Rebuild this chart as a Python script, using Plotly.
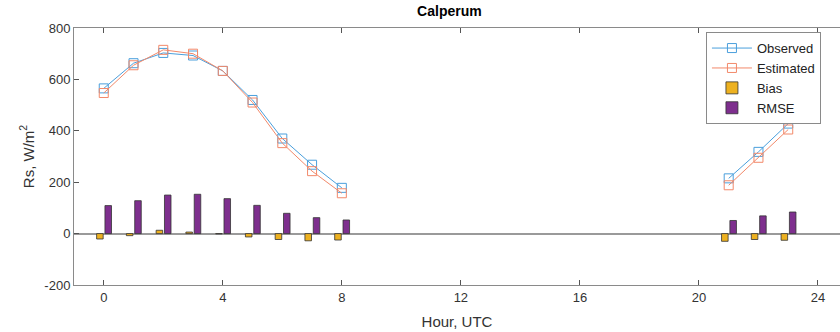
import plotly.graph_objects as go

hours = [0, 1, 2, 3, 4, 5, 6, 7, 8, 21, 22, 23]
observed = [565, 663, 703, 693, 633, 520, 370, 268, 178, 215, 318, 428]
estimated = [547, 655, 715, 700, 633, 510, 352, 243, 157, 188, 295, 405]
bias = [-21, -8, 13, 6, -1, -13, -23, -28, -25, -30, -23, -26]
rmse = [109, 128, 150, 153, 136, 110, 79, 62, 53, 51, 69, 84]
xticks = [0, 4, 8, 12, 16, 20, 24]
yticks = [-200, 0, 200, 400, 600, 800]
yticklabels = ["-200", "0", "200", "400", "600", "800"]

blue = "#4a9fdc"
orange = "#f2896a"
font = "Liberation Sans, Arial, sans-serif"

fig = go.Figure()

def seg(xs, ys):
    ox, oy = [], []
    for i, (a, b) in enumerate(zip(xs, ys)):
        if i > 0 and a - xs[i-1] > 1:
            ox.append(None); oy.append(None)
        ox.append(a); oy.append(b)
    return ox, oy

ox, oy = seg(hours, observed)
ex, ey = seg(hours, estimated)
fig.add_trace(go.Scatter(x=ox, y=oy, mode="lines+markers", name="Observed",
                         line=dict(color=blue, width=1),
                         marker=dict(symbol="square-open", size=9, color=blue, line=dict(width=1))))
fig.add_trace(go.Scatter(x=ex, y=ey, mode="lines+markers", name="Estimated",
                         line=dict(color=orange, width=1),
                         marker=dict(symbol="square-open", size=9, color=orange, line=dict(width=1))))
fig.add_trace(go.Bar(x=hours, y=bias, name="Bias", width=0.22, offset=-0.24,
                     marker=dict(color="#EDB120", line=dict(color="#333333", width=0.8))))
fig.add_trace(go.Bar(x=hours, y=rmse, name="RMSE", width=0.22, offset=0.04,
                     marker=dict(color="#7E2F8E", line=dict(color="#333333", width=0.8))))

axis_common = dict(showgrid=False, ticks="inside", ticklen=5, tickcolor="#555555",
                   linecolor="#8a8a8a", linewidth=1, showline=True,
                   tickfont=dict(family=font, size=13, color="#333333"))
fig.update_xaxes(range=[-1, 24.74], tickvals=xticks, mirror="ticks", zeroline=False,
                 title=dict(text="Hour, UTC", font=dict(family=font, size=15, color="#333333"), standoff=12),
                 **axis_common)
fig.update_yaxes(range=[-200, 800], tickvals=yticks, ticktext=yticklabels, zeroline=True,
                 zerolinecolor="#9a9a9a", zerolinewidth=1.5,
                 title=dict(text="Rs, W/m<sup>2</sup>", font=dict(family=font, size=15, color="#333333"), standoff=6),
                 **axis_common)

fig.update_layout(
    width=840, height=332,
    margin=dict(l=74, r=0, t=28, b=47),
    paper_bgcolor="white", plot_bgcolor="white",
    barmode="overlay",
    title=dict(text="<b>Calperum</b>", x=0.535, xanchor="center", yref="paper", y=1,
               yanchor="bottom", pad=dict(b=12),
               font=dict(family=font, size=14, color="black")),
    legend=dict(x=0.825, y=0.984, xanchor="left", yanchor="top",
                bgcolor="white", bordercolor="#8a8a8a", borderwidth=1,
                font=dict(family=font, size=13, color="#222222"),
                tracegroupgap=0, itemwidth=40),
    showlegend=True,
)

fig.write_html("out.html")
